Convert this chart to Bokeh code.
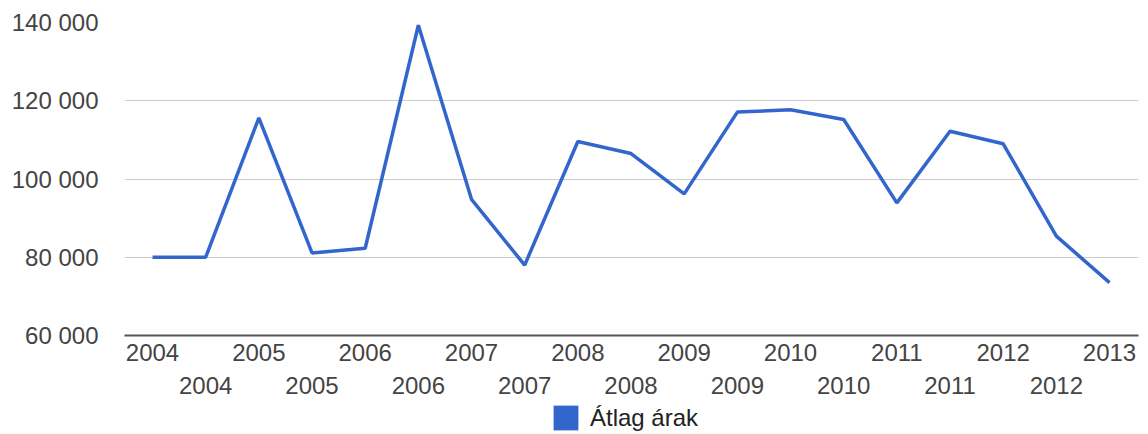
from bokeh.plotting import figure
from bokeh.layouts import column
from bokeh.models import Range1d, LinearAxis, FixedTicker, Legend, LegendItem, ColumnDataSource
from bokeh.embed import file_html
from bokeh.resources import INLINE

periods = ["2004", "2004", "2005", "2005", "2006", "2006", "2007", "2007", "2008", "2008",
           "2009", "2009", "2010", "2010", "2011", "2011", "2012", "2012", "2013"]
prices = [80000, 80000, 115600, 81100, 82300, 139300, 94800, 78000, 109600, 106500,
          96200, 117100, 117700, 115200, 93900, 112200, 109000, 85400, 73500]
y_ticks = [60000, 80000, 100000, 120000, 140000]
y_tick_labels = ["60 000", "80 000", "100 000", "120 000", "140 000"]
series_name = "Átlag árak"

FONT = "Liberation Sans"
FS = "24px"
BLUE = "#3366CC"
TXT = "#444444"

idx = list(range(len(periods)))
src = ColumnDataSource(dict(x=idx, y=prices))

p = figure(width=1148, height=402, output_backend="svg", toolbar_location=None,
           x_range=Range1d(-0.527, 18.545), y_range=Range1d(y_ticks[0], y_ticks[-1]),
           min_border_left=124, min_border_right=10, min_border_top=22, min_border_bottom=67)
p.outline_line_color = None
p.background_fill_color = "white"
p.border_fill_color = "white"

p.line("x", "y", source=src, line_color=BLUE, line_width=3.5)

# y axis
p.yaxis.ticker = FixedTicker(ticks=y_ticks)
p.yaxis.major_label_overrides = {t: l for t, l in zip(y_ticks, y_tick_labels)}
p.yaxis.axis_line_color = None
p.yaxis.major_tick_line_color = None
p.yaxis.minor_tick_line_color = None
p.yaxis.major_label_standoff = 20
p.yaxis.major_label_text_font = FONT
p.yaxis.major_label_text_font_size = FS
p.yaxis.major_label_text_color = TXT

p.ygrid.ticker = FixedTicker(ticks=y_ticks[1:])
p.ygrid.grid_line_color = "#cccccc"
p.ygrid.grid_line_width = 1
p.xgrid.grid_line_color = None

# x axes: staggered rows
even = [i for i in idx if i % 2 == 0]
odd = [i for i in idx if i % 2 == 1]
ax1 = p.xaxis[0]
ax1.ticker = FixedTicker(ticks=even)
ax1.major_label_overrides = {i: periods[i] for i in even}
ax1.axis_line_color = "#555555"
ax1.axis_line_width = 2
ax1.major_tick_line_color = None
ax1.minor_tick_line_color = None
ax1.major_label_standoff = 2
ax1.major_label_text_font = FONT
ax1.major_label_text_font_size = FS
ax1.major_label_text_color = TXT

ax2 = LinearAxis(ticker=FixedTicker(ticks=odd),
                 major_label_overrides={i: periods[i] for i in odd})
ax2.axis_line_color = None
ax2.major_tick_line_color = None
ax2.minor_tick_line_color = None
ax2.major_label_standoff = 7
ax2.major_label_text_font = FONT
ax2.major_label_text_font_size = FS
ax2.major_label_text_color = TXT
p.add_layout(ax2, "below")

# legend strip below the chart (its frame is aligned with the chart's frame)
lg = figure(width=1148, height=32, output_backend="svg", toolbar_location=None,
            x_range=Range1d(0, 1), y_range=Range1d(0, 1),
            x_axis_location=None, y_axis_location=None, min_border=0)
lg.outline_line_color = None
lg.grid.grid_line_color = None
# zero-height area from the series (off-view), used only for the square swatch
sw = lg.varea(x="x", y1="y", y2="y", source=src, fill_color=BLUE)
legend = Legend(items=[LegendItem(label=series_name, renderers=[sw])],
                location=(426, 1), orientation="horizontal",
                glyph_width=31, glyph_height=31, label_standoff=9,
                label_text_font=FONT, label_text_font_size=FS, label_text_color="#222222",
                border_line_color=None, background_fill_alpha=0, padding=0, margin=0)
lg.add_layout(legend, "center")

layout = column(p, lg, spacing=0)
open("out.html", "w").write(file_html(layout, INLINE))
